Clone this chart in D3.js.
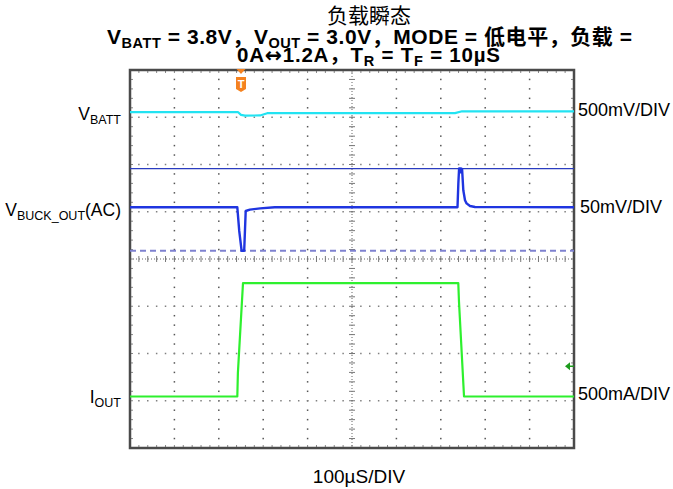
<!DOCTYPE html>
<html><head><meta charset="utf-8">
<script src="https://cdn.jsdelivr.net/npm/d3@7"></script>
<style>html,body{margin:0;padding:0;background:#fff;}svg{display:block;}</style>
</head><body>
<script>
// ---- data ----
const timeRangeUs = [0, 1000];          // 10 div x 100 µs
const divRange = [-4, 4];
// VBATT (V), 500 mV/div
const vbattT = [0, 243, 250, 259, 293, 309, 732, 748, 1000];
const vbattV = [3.800, 3.800, 3.770, 3.763, 3.764, 3.788, 3.789, 3.808, 3.808];
// VBUCK_OUT AC (mV), 50 mV/div
const vbuckT = [0, 241.7, 246, 251.4, 257.2, 260.6, 270, 293, 326, 737.6, 739.5, 741.2, 744, 745, 746.5, 748, 750.7, 754.5, 758, 765.8, 777, 1000];
const vbuckMv = [0, 0, -25, -46, -46, -3.9, -2.5, -1.1, 0, 0, 25, 41, 41, 37, 41, 40, 18, 7.4, 4.2, 1.4, 0.3, 0];
const vbuckCursorHigh = 41, vbuckCursorLow = -46;
// IOUT (A), 500 mA/div
const ioutT = [0, 241.7, 243, 254.5, 739.4, 741, 752.3, 1000];
const ioutA = [0, 0, 0.25, 1.2, 1.2, 1.0, 0, 0];
const ioutTrigLevelA = 0.32;
const triggerT = 250;
// channel settings
const ch1 = {ref: 3.8, perDiv: 0.5, pos: 3.11};
const ch2 = {ref: 0, perDiv: 50, pos: 1.094};
const ch3 = {ref: 0, perDiv: 0.5, pos: -2.91};
// labels
const titleLine1 = "负载瞬态";
const leftLabelY = [120, 216, 403];
const rightLabels = ["500mV/DIV", "50mV/DIV", "500mA/DIV"];
const rightY = [116, 213, 400];
const rightX = [578, 580, 578];
const xAxisLabel = "100µS/DIV";

const W = 673, H = 489;
const L = 130, R = 574, T = 70, B = 448;

const svg = d3.select("body").append("svg").attr("width", W).attr("height", H);
svg.append("rect").attr("width", W).attr("height", H).attr("fill", "#fff");

const x = d3.scaleLinear().domain(timeRangeUs).range([L, R]);
const yd = d3.scaleLinear().domain(divRange).range([B, T]);
const yCh = ch => v => yd((v - ch.ref) / ch.perDiv + ch.pos);

// ---- grid ----
const g = svg.append("g");
const xMinor = d3.range(0, 1000.01, 20);
const yMinor = d3.range(-4, 4.01, 0.2);
const xMajor = d3.range(100, 1000, 100).filter(v => v !== 500);
const yMajor = d3.range(-3, 4, 1).filter(v => v !== 0);
xMajor.forEach(t => yMinor.forEach(v => {
  g.append("rect").attr("x", x(t) - 0.75).attr("y", yd(v) - 0.75).attr("width", 1.5).attr("height", 1.5).attr("fill", "#555");
}));
yMajor.forEach(v => xMinor.forEach(t => {
  g.append("rect").attr("x", x(t) - 0.75).attr("y", yd(v) - 0.75).attr("width", 1.5).attr("height", 1.5).attr("fill", "#808080");
}));
g.append("line").attr("x1", L).attr("x2", R).attr("y1", yd(0)).attr("y2", yd(0)).attr("stroke", "#666").attr("stroke-dasharray", "1,2");
g.append("line").attr("y1", T).attr("y2", B).attr("x1", x(500)).attr("x2", x(500)).attr("stroke", "#666").attr("stroke-dasharray", "1,2");
xMinor.forEach(t => {
  g.append("line").attr("x1", x(t)).attr("x2", x(t)).attr("y1", yd(0) - 3).attr("y2", yd(0) + 3).attr("stroke", "#777");
  g.append("line").attr("x1", x(t)).attr("x2", x(t)).attr("y1", T).attr("y2", T + 3).attr("stroke", "#888");
  g.append("line").attr("x1", x(t)).attr("x2", x(t)).attr("y1", B).attr("y2", B - 3).attr("stroke", "#888");
});
yMinor.forEach(v => {
  g.append("line").attr("y1", yd(v)).attr("y2", yd(v)).attr("x1", x(500) - 3).attr("x2", x(500) + 3).attr("stroke", "#777");
  g.append("line").attr("y1", yd(v)).attr("y2", yd(v)).attr("x1", L).attr("x2", L + 3).attr("stroke", "#888");
  g.append("line").attr("y1", yd(v)).attr("y2", yd(v)).attr("x1", R).attr("x2", R - 3).attr("stroke", "#888");
});
svg.append("rect").attr("x", L).attr("y", T).attr("width", R - L).attr("height", B - T)
  .attr("fill", "none").attr("stroke", "#4a4a4a").attr("stroke-width", 2.5);

// ---- cursors ----
const y2 = yCh(ch2);
svg.append("line").attr("x1", L).attr("x2", R).attr("y1", y2(vbuckCursorHigh)).attr("y2", y2(vbuckCursorHigh))
  .attr("stroke", "#2a3cc0").attr("stroke-width", 1.2);
svg.append("line").attr("x1", L).attr("x2", R).attr("y1", y2(vbuckCursorLow)).attr("y2", y2(vbuckCursorLow))
  .attr("stroke", "#7f82d0").attr("stroke-width", 2).attr("stroke-dasharray", "6,4");

// ---- traces ----
function trace(ts, vs, ch, color, w) {
  const yy = yCh(ch);
  const line = d3.line().x(d => x(d[0])).y(d => yy(d[1]));
  svg.append("path").attr("d", line(ts.map((t, i) => [t, vs[i]])))
    .attr("fill", "none").attr("stroke", color).attr("stroke-width", w).attr("stroke-linejoin", "round");
}
trace(vbattT, vbattV, ch1, "#22e3f2", 2.2);
trace(vbuckT, vbuckMv, ch2, "#1f35e0", 2.4);
trace(ioutT, ioutA, ch3, "#2ef02e", 2.2);

// ---- markers ----
const tx = x(triggerT);
svg.append("path").attr("d", `M${tx-4.5},${T-1}L${tx+4.5},${T-1}L${tx},${T+4}Z`).attr("fill", "#f5821f");
svg.append("path").attr("d", `M${tx-5},${T+7}L${tx+5},${T+7}L${tx+5},${T+19}L${tx},${T+22}L${tx-5},${T+19}Z`).attr("fill", "#f5821f");
svg.append("text").attr("x", tx).attr("y", T + 17.5).attr("text-anchor", "middle").attr("fill", "#fff")
  .attr("font-family", "Liberation Sans, Arial, sans-serif").attr("font-weight", "bold").attr("font-size", 11).text("T");
const y3 = yCh(ch3);
const ty = y3(ioutTrigLevelA);
svg.append("path").attr("d", `M${R-9},${ty}L${R-4},${ty-4}L${R-4},${ty+4}Z`).attr("fill", "#1d9b1d");
svg.append("line").attr("x1", R - 5).attr("x2", R).attr("y1", ty).attr("y2", ty).attr("stroke", "#1d9b1d").attr("stroke-width", 1.5);

// ---- text ----
const FF = "Liberation Sans, Arial, 'Noto Sans CJK SC', sans-serif";
function rich(xp, yp, segs, opts) {
  const t = svg.append("text").attr("x", xp).attr("y", yp).attr("font-family", FF)
    .attr("font-size", opts.size).attr("text-anchor", opts.anchor || "start").attr("fill", "#000");
  if (opts.bold) t.attr("font-weight", "bold");
  if (opts.len) t.attr("textLength", opts.len).attr("lengthAdjust", "spacing");
  let shifted = false;
  segs.forEach(s => {
    const ts = t.append("tspan").text(s.t);
    if (s.ff) ts.attr("font-family", s.ff);
    if (s.sub && !shifted) { ts.attr("dy", opts.subDy).attr("font-size", opts.subSize); shifted = true; }
    else if (s.sub) { ts.attr("font-size", opts.subSize); }
    else if (!s.sub && shifted) { ts.attr("dy", -opts.subDy); shifted = false; }
  });
  return t;
}
svg.append("text").attr("x", 369).attr("y", 23).attr("text-anchor", "middle").attr("font-family", FF)
  .attr("font-size", 21).text(titleLine1);
rich(369.5, 44, [{t: "V"}, {t: "BATT", sub: true}, {t: " = 3.8V，V"}, {t: "OUT", sub: true},
  {t: " = 3.0V，MODE = 低电平，负载 ="}], {size: 21, subSize: 14.5, subDy: 3.5, bold: true, anchor: "middle", len: 525});
rich(368.5, 62, [{t: "0A"}, {t: "↔", ff: "DejaVu Sans"}, {t: "1.2A，T"}, {t: "R", sub: true}, {t: " = T"}, {t: "F", sub: true}, {t: " = 10µS"}],
  {size: 20.5, subSize: 14.5, subDy: 3.5, bold: true, anchor: "middle", len: 263});

const leftLabels = [
  [{t: "V"}, {t: "BATT", sub: true}],
  [{t: "V"}, {t: "BUCK_OUT", sub: true}, {t: "(AC)"}],
  [{t: "I"}, {t: "OUT", sub: true}]
];
leftLabels.forEach((segs, i) => rich(121, leftLabelY[i], segs, {size: 17.5, subSize: 12.5, subDy: 4, anchor: "end"}));
rightLabels.forEach((s, i) => svg.append("text").attr("x", rightX[i]).attr("y", rightY[i]).attr("font-family", FF)
  .attr("font-size", 18).text(s));
svg.append("text").attr("x", 359).attr("y", 483).attr("text-anchor", "middle").attr("font-family", FF)
  .attr("font-size", 19).text(xAxisLabel);
</script>
</body></html>
